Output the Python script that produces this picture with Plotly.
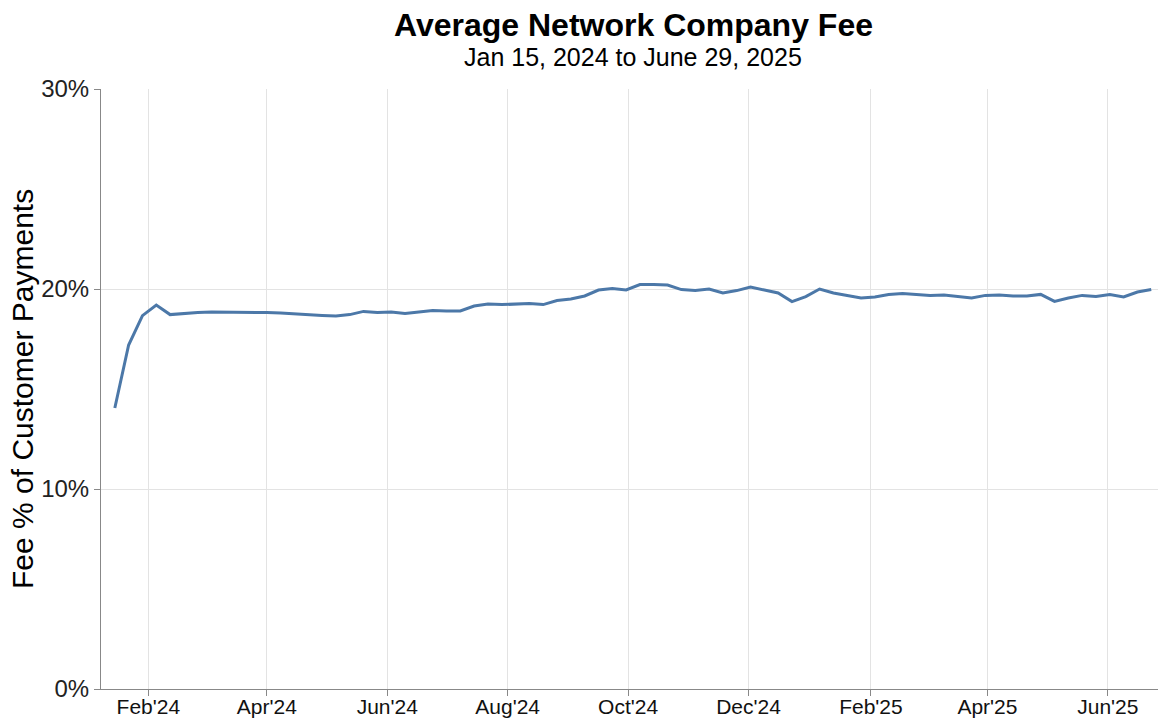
import pandas as pd
import plotly.graph_objects as go

# Weekly dates (week start), Jan 15, 2024 .. Jun 23, 2025
weeks = pd.date_range("2024-01-15", periods=76, freq="7D")

fee_pct = [
    14.05, 17.2, 18.67, 19.2, 18.72, 18.78, 18.83, 18.85, 18.85, 18.83,
    18.82, 18.82, 18.80, 18.75, 18.72, 18.68, 18.65, 18.72, 18.88, 18.83,
    18.85, 18.78, 18.85, 18.93, 18.90, 18.90, 19.15, 19.25, 19.22, 19.25,
    19.27, 19.22, 19.42, 19.50, 19.65, 19.95, 20.02, 19.95, 20.22, 20.23,
    20.20, 19.97, 19.92, 20.00, 19.80, 19.92, 20.10, 19.95, 19.80, 19.37,
    19.62, 20.00, 19.80, 19.68, 19.55, 19.60, 19.72, 19.78, 19.72, 19.68,
    19.70, 19.62, 19.55, 19.68, 19.70, 19.65, 19.65, 19.73, 19.38, 19.55,
    19.68, 19.63, 19.72, 19.60, 19.85, 19.97,
]

title_text = "Average Network Company Fee"
subtitle_text = "Jan 15, 2024 to June 29, 2025"
y_title = "Fee % of Customer Payments"
y_ticks = [0, 10, 20, 30]
y_tick_labels = ["0%", "10%", "20%", "30%"]

FONT = "Liberation Sans, Arial, Helvetica, sans-serif"
PLOT_W = 1057
TITLE_X = (633 - 101) / PLOT_W

fig = go.Figure()
fig.add_trace(go.Scatter(
    x=weeks, y=fee_pct, mode="lines",
    line=dict(color="#4c78a8", width=3),
    hoverinfo="x+y",
))

fig.update_layout(
    width=1158, height=719,
    margin=dict(l=101, r=0, t=89, b=30),
    paper_bgcolor="white", plot_bgcolor="white",
    showlegend=False,
    font=dict(family=FONT, color="#000"),
    annotations=[
        dict(text="<b>" + title_text + "</b>", xref="paper", yref="paper",
             x=TITLE_X, y=1, yshift=89 - 25, showarrow=False,
             xanchor="center", yanchor="middle",
             font=dict(size=32, family=FONT, color="#000")),
        dict(text=subtitle_text, xref="paper", yref="paper",
             x=TITLE_X, y=1, yshift=89 - 57, showarrow=False,
             xanchor="center", yanchor="middle",
             font=dict(size=25, family=FONT, color="#000")),
        dict(text=y_title, xref="paper", yref="paper",
             x=0, xshift=22 - 101, y=0.5, showarrow=False, textangle=-90,
             xanchor="center", yanchor="middle",
             font=dict(size=30, family=FONT, color="#000")),
    ],
)

fig.update_xaxes(
    range=["2024-01-08", "2025-06-26 10:00"],
    tick0="2024-02-01", dtick="M2", tickformat="%b'%y",
    showgrid=True, gridcolor="#e3e3e3", gridwidth=1,
    showline=True, linecolor="#888", linewidth=1,
    ticks="outside", ticklen=6, tickcolor="#888",
    tickfont=dict(size=21, family=FONT, color="#111"),
    ticklabelstandoff=-7,
    zeroline=False, automargin=False,
)
fig.update_yaxes(
    range=[0, 30], tickvals=y_ticks, ticktext=y_tick_labels,
    showgrid=True, gridcolor="#e3e3e3", gridwidth=1,
    showline=True, linecolor="#888", linewidth=1,
    ticks="outside", ticklen=6, tickcolor="#888",
    tickfont=dict(size=24, family=FONT, color="#222"),
    zeroline=False, automargin=False,
)

fig.write_html("out.html", config={"displayModeBar": False},
               post_script="document.body.style.margin='0';")
